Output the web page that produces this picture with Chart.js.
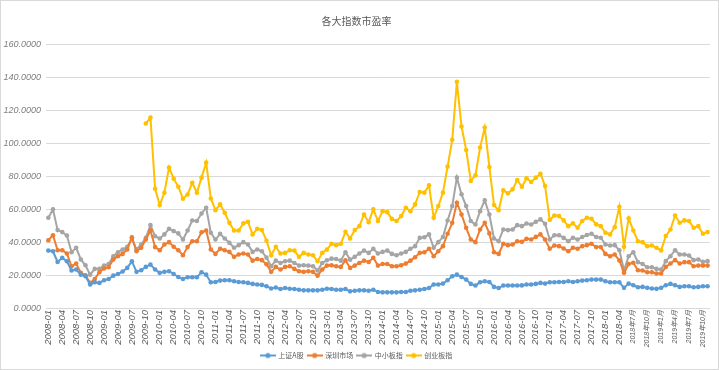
<!DOCTYPE html>
<html>
<head>
<meta charset="utf-8">
<script src="https://cdn.jsdelivr.net/npm/chart.js@4/dist/chart.umd.min.js"></script>
<style>
    html, body { margin: 0; padding: 0; background: #fff; }
    #wrap { width: 719px; height: 370px; box-sizing: border-box; border: 1px solid #d9d9d9; }
</style>
</head>
<body>
<div id="wrap"><canvas id="myChartPE" width="717" height="368"></canvas></div>
<script>
// months 2008-01 .. 2019-11, the source switches to 年/月 labels from 2018-07
const months = []
for (let y = 2008; y <= 2019; y++) {
    for (let m = 1; m <= 12; m++) {
        if (y === 2019 && m > 11) break
        if (y > 2018 || (y === 2018 && m >= 7)) months.push(y + '年' + m + '月')
        else months.push(y + '-' + (m < 10 ? '0' + m : m))
    }
}

const shA = [34.8, 34.4, 27.9, 30.4, 28.3, 22.7, 23.3, 20.2, 19.2, 14.2, 15.6, 15.2, 16.8, 17.6, 19.6, 20.6, 22.1, 24.3, 28.3, 21.9,
    22.9, 24.9, 26.3, 23.3, 21.3, 21.9, 22.3, 20.6, 18.8, 17.6, 18.6, 18.6, 18.6, 21.7, 20.2, 15.6, 15.8, 16.6, 16.8, 16.8,
    16.2, 15.8, 15.6, 15.2, 14.6, 14.2, 14.0, 13.2, 11.8, 12.4, 11.5, 12.1, 11.7, 11.5, 11.1, 10.7, 10.7, 10.7, 10.7, 11.1,
    11.7, 11.5, 11.1, 11.1, 11.5, 10.1, 10.5, 10.7, 10.7, 10.5, 11.1, 9.7, 9.5, 9.5, 9.5, 9.5, 9.7, 9.7, 10.5, 10.7,
    11.1, 11.5, 12.1, 14.2, 14.2, 14.8, 16.8, 19.2, 20.2, 18.8, 17.2, 14.6, 13.6, 15.6, 16.2, 15.8, 12.8, 12.1, 13.6, 13.6,
    13.6, 13.6, 13.7, 14.2, 14.2, 14.6, 15.2, 14.8, 15.6, 15.6, 15.8, 15.8, 16.2, 15.8, 16.2, 16.6, 16.8, 17.2, 17.2, 17.2,
    16.2, 15.6, 15.6, 15.6, 12.2, 14.8, 13.8, 12.6, 12.8, 12.2, 11.8, 11.6, 12.2, 13.8, 14.6, 13.8, 12.8, 13.2, 13.2, 12.6,
    12.8, 13.2, 13.2]

const szMarket = [41.1, 44.1, 35, 35, 33, 25.3, 26.9, 21.3, 19.8, 15.2, 17.6, 21.7, 23.9, 24.7, 29.4, 31.4, 32.8, 35.5, 42.9, 34.4,
    36.5, 41.5, 47, 36.9, 35, 38.5, 39.9, 37.1, 35, 32, 36.9, 40.5, 40.5, 45.9, 47, 35.5, 32.8, 35.9, 35, 34,
    31, 32.4, 33, 32.4, 28.7, 29.7, 29, 26.5, 21.9, 24.9, 23.3, 24.9, 25.3, 23.7, 22.3, 21.9, 22.3, 21.9, 19.6, 23.3,
    25.7, 25.9, 25.3, 24.9, 28.9, 24.3, 25.7, 27.3, 28.7, 27.9, 30.4, 25.7, 26.7, 26.7, 25.3, 25.3, 25.9, 26.9, 28.7, 30.8,
    33.4, 33.8, 35.9, 31.4, 34.4, 37.5, 45, 51.6, 63.8, 56.7, 48.6, 41.5, 39.9, 47.6, 51.6, 45.2, 33.8, 32.8, 38.9, 38.1,
    38.5, 40.5, 40.1, 41.9, 41.5, 43.1, 44.6, 41.5, 35.9, 37.9, 37.5, 36.1, 34.4, 36.5, 35.9, 37.5, 38.1, 38.9, 36.9, 36.9,
    32.8, 31.4, 32.4, 28.8, 21.3, 26.7, 27.4, 22.9, 22.7, 21.7, 21.7, 20.9, 20.9, 24.9, 27, 29, 27, 27.8, 27.8, 25.3,
    25.7, 25.7, 25.7]

const smeIndex = [54.7, 59.8, 47.2, 46, 43.9, 33.8, 36.5, 29.4, 25.9, 20.2, 23.7, 23.7, 25.7, 26.7, 31.4, 33.8, 35.5, 37.1, 41.9, 35.5,
    38.5, 42.5, 50.2, 43.5, 42.1, 44.6, 48, 46.6, 45.2, 41.5, 47, 53, 52.7, 57.3, 60.8, 45.6, 41.5, 44.9, 42.1, 39.5,
    36.5, 38.1, 39.9, 38.5, 34, 35.5, 34.4, 30.5, 25.3, 28.7, 27.3, 28.3, 28.7, 27.3, 25.7, 25.9, 25.7, 25.3, 22.7, 27.3,
    28.9, 29.9, 29.7, 28.7, 33.8, 29.3, 31, 33, 34.8, 33.4, 35.9, 33, 34, 34.8, 32.8, 32, 33, 34, 35.9, 37.5,
    42.5, 42.9, 44.6, 36.5, 39.9, 43, 53, 61.8, 79, 68.9, 61.8, 52.7, 50.6, 58.7, 65.2, 56.7, 42.1, 40.5, 47.6, 47.2,
    47.6, 50.2, 49.6, 51.2, 50.6, 52.2, 53.7, 51, 41.5, 44.1, 44.1, 42.5, 40.5, 42.6, 41.5, 43, 44.2, 45, 43, 42.6,
    38.5, 37.9, 38.1, 35, 22.9, 31.4, 33.8, 27.8, 26.7, 24.7, 24.7, 23.7, 23.3, 28.4, 31.4, 35, 32.4, 32.4, 31.8, 29,
    29.4, 28, 28.4]

// ChiNext index starts 2009-10
const chiNext = [null, null, null, null, null, null, null, null, null, null, null, null, null, null, null, null, null, null, null, null,
    null, 111.8, 115.5, 72.3, 62.4, 69.9, 85.1, 78.4, 73.5, 66.2, 68.8, 75.9, 69.9, 79, 88.1, 66.4, 59.3, 62.8, 57.7, 51.6,
    47, 47, 51.3, 52.3, 44.6, 48, 47.2, 40.8, 32, 37.1, 33, 33.4, 35, 34.8, 31, 33.4, 32.4, 32, 28.3, 33.4,
    35.4, 38.9, 38.1, 38.9, 46.2, 42.1, 47.2, 49.6, 56.7, 52, 59.8, 52.7, 58.7, 58.1, 54, 52.7, 55.7, 60.8, 58.7, 62.8,
    70.3, 69.9, 74.3, 54.7, 61.8, 69.9, 85.7, 101.9, 137.1, 110, 95.8, 77, 80.4, 97.2, 109.4, 85.5, 62.4, 59.2, 71.3, 69.5,
    71.9, 77.6, 73.5, 78.6, 76.4, 79, 81.4, 73.9, 53.3, 56.1, 55.7, 53.1, 49.6, 51.3, 48.6, 52.7, 54.7, 54.1, 50.7, 49.6,
    45.6, 44.6, 49, 61.4, 37.1, 54.3, 47, 40.5, 39.9, 37.5, 37.9, 36.5, 34.9, 43.6, 47.6, 56.1, 51.7, 53.1, 52.7, 48.6,
    49.6, 45, 46]

const seriesNames = ['上证A股', '深圳市场', '中小板指', '创业板指']
const seriesColors = ['#5B9BD5', '#ED7D31', '#A5A5A5', '#FFC000']

// legend marker: short line with a dot in the middle
const legendMarker = (color) => {
    const c = document.createElement('canvas')
    c.width = 16; c.height = 8
    const g = c.getContext('2d')
    g.strokeStyle = color; g.lineWidth = 2
    g.beginPath(); g.moveTo(0, 4); g.lineTo(16, 4); g.stroke()
    g.fillStyle = color
    g.beginPath(); g.arc(8, 4, 2.6, 0, Math.PI * 2); g.fill()
    return c
}

const makeSet = (i, data) => ({
    label: seriesNames[i],
    data: data,
    borderColor: seriesColors[i],
    backgroundColor: seriesColors[i],
    borderWidth: 2,
    pointRadius: 2.3,
    pointBorderWidth: 0,
    pointBackgroundColor: seriesColors[i],
    tension: 0,
    spanGaps: false
})

var ctx = document.getElementById('myChartPE')
var myChart = new Chart(ctx, {
    type: 'line',
    data: {
        labels: months,
        datasets: [makeSet(0, shA), makeSet(1, szMarket), makeSet(2, smeIndex), makeSet(3, chiNext)]
    },
    options: {
        responsive: false,
        animation: false,
        layout: { padding: { left: 0, right: 6, top: 0, bottom: 0 } },
        plugins: {
            title: {
                display: true,
                text: '各大指数市盈率',
                color: '#595959',
                font: { size: 10, weight: 'normal', family: '"Noto Sans CJK SC", sans-serif' },
                padding: { top: 14, bottom: 17 }
            },
            legend: {
                position: 'bottom',
                labels: {
                    color: '#595959',
                    font: { size: 7, family: '"Noto Sans CJK SC", sans-serif' },
                    usePointStyle: true,
                    pointStyleWidth: 14,
                    padding: 4,
                    generateLabels: (chart) => chart.data.datasets.map((ds, i) => ({
                        text: ds.label,
                        pointStyle: legendMarker(seriesColors[i]),
                        fontColor: '#595959',
                        datasetIndex: i,
                        hidden: false
                    }))
                }
            },
            tooltip: { enabled: false }
        },
        scales: {
            x: {
                offset: true,
                grid: { display: false, drawTicks: false },
                border: { color: '#D9D9D9' },
                afterFit: (scale) => { scale.height = 40 },
                ticks: {
                    autoSkip: false,
                    minRotation: 90,
                    maxRotation: 90,
                    padding: 2,
                    color: '#595959',
                    font: (c) => ({
                        size: (c.index >= 126 ? 7 : 9.5),
                        style: 'italic',
                        family: '"Liberation Sans", "Noto Sans CJK SC", sans-serif'
                    }),
                    callback: function (value, index) {
                        return index % 3 === 0 ? this.getLabelForValue(value) : ''
                    }
                }
            },
            y: {
                min: 0,
                max: 160,
                grid: { color: '#D9D9D9', drawTicks: false },
                border: { display: false },
                afterFit: (scale) => { scale.width = 45 },
                ticks: {
                    stepSize: 20,
                    padding: 5,
                    color: '#7F7F7F',
                    font: { size: 9, style: 'italic', family: '"Liberation Sans", sans-serif' },
                    callback: (v) => v.toFixed(4)
                }
            }
        }
    }
})
</script>
</body>
</html>
